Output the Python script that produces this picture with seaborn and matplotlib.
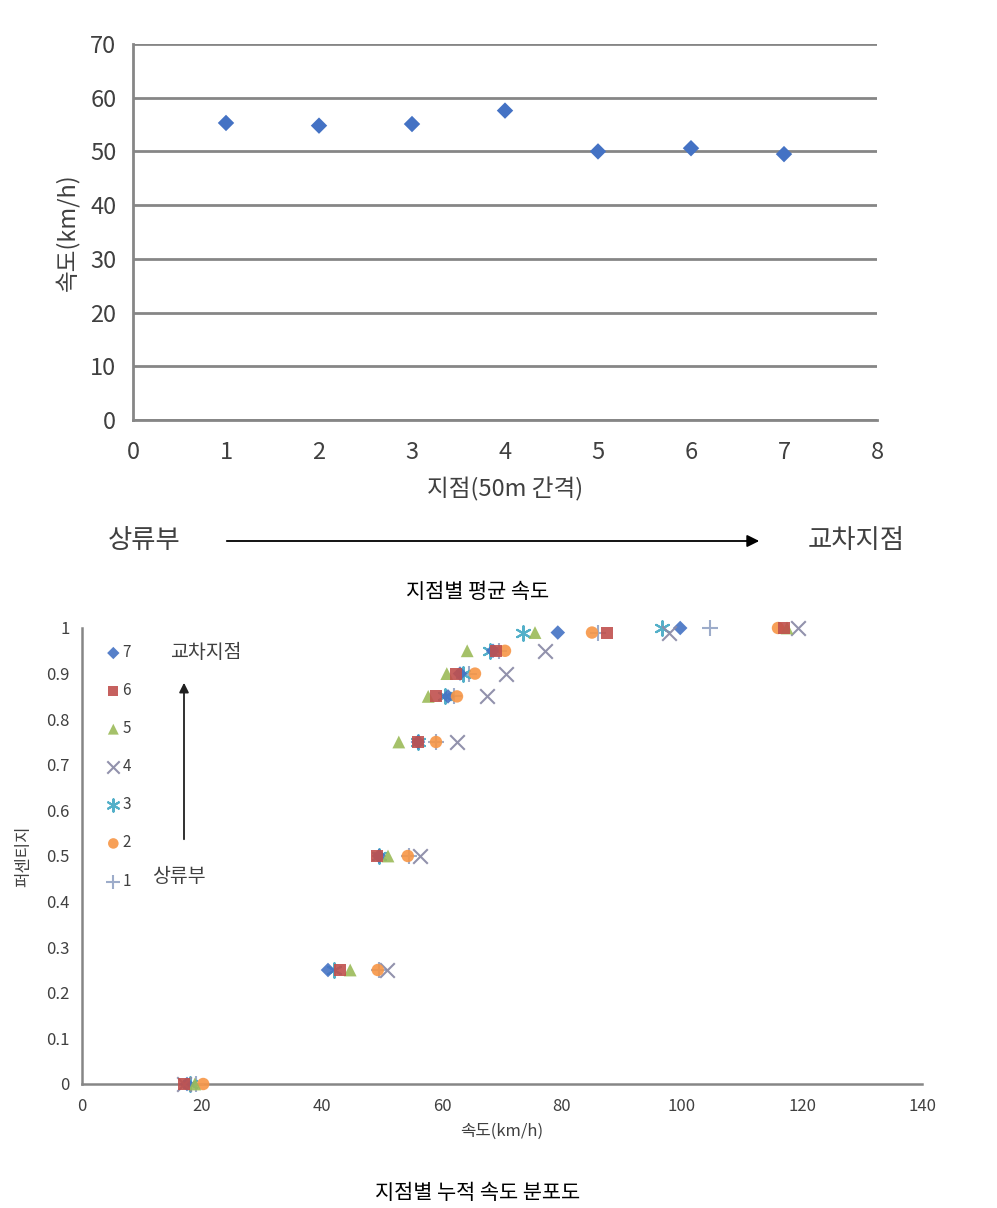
import matplotlib
matplotlib.use("Agg")
import matplotlib.pyplot as plt
import seaborn as sns
import pandas as pd

# ---------------- data ----------------
points = [1, 2, 3, 4, 5, 6, 7]
mean_speed = [55.3, 54.8, 55.1, 57.6, 50.0, 50.6, 49.5]

percentiles = [0, 0.25, 0.5, 0.75, 0.85, 0.9, 0.95, 0.99, 1.0]
speed_p7 = [17.5, 41.0, 49.5, 56.0, 61.0, 63.0, 68.5, 79.3, 99.7]
speed_p6 = [17.0, 43.0, 49.2, 56.0, 59.0, 62.3, 69.0, 87.5, 117.0]
speed_p5 = [18.8, 44.7, 51.0, 52.8, 57.7, 60.8, 64.2, 75.5, 117.5]
speed_p4 = [17.0, 50.8, 56.3, 62.5, 67.5, 70.7, 77.2, 97.8, 119.3]
speed_p3 = [18.0, 42.0, 49.5, 56.0, 60.5, 63.5, 68.0, 73.5, 96.7]
speed_p2 = [20.2, 49.3, 54.3, 59.0, 62.5, 65.5, 70.5, 85.0, 116.0]
speed_p1 = [19.0, 49.5, 54.5, 59.0, 62.0, 64.5, 69.5, 86.0, 104.7]

series_labels = ["7", "6", "5", "4", "3", "2", "1"]
series_speeds = [speed_p7, speed_p6, speed_p5, speed_p4, speed_p3, speed_p2, speed_p1]

x_ticks_top = [0, 1, 2, 3, 4, 5, 6, 7, 8]
y_ticks_top = [0, 10, 20, 30, 40, 50, 60, 70]
x_ticks_bot = [0, 20, 40, 60, 80, 100, 120, 140]
y_ticks_bot = [0, 0.1, 0.2, 0.3, 0.4, 0.5, 0.6, 0.7, 0.8, 0.9, 1]
y_tick_labels_bot = ["0", "0.1", "0.2", "0.3", "0.4", "0.5", "0.6", "0.7", "0.8", "0.9", "1"]

# ---------------- styling ----------------
sns.set_style("white")
plt.rcParams['font.family'] = ['Noto Sans CJK KR', 'DejaVu Sans']

styles = {
    "7": dict(marker="D", color="#4472C4", s=55, filled=True),
    "6": dict(marker="s", color="#C0504D", s=75, filled=True),
    "5": dict(marker="^", color="#9BBB59", s=85, filled=True),
    "4": dict(marker="x", color="#8C8CA8", s=110, filled=False),
    "3": dict(marker=(6, 2, 0), color="#4BACC6", s=110, filled=False),
    "2": dict(marker="o", color="#F79646", s=80, filled=True),
    "1": dict(marker="+", color="#98A8C8", s=130, filled=False),
}

axis_gray = "#868686"
text_col = "#404040"

fig = plt.figure(figsize=(9.97, 12.08), dpi=100)

# ---------------- top chart ----------------
ax1 = fig.add_axes([133 / 997, 1 - 420 / 1208, (877 - 133) / 997, (420 - 44) / 1208])
df_top = pd.DataFrame({"지점": points, "속도": mean_speed})
sns.scatterplot(data=df_top, x="지점", y="속도", ax=ax1, marker="D", s=70,
                color="#4472C4", edgecolor="none", zorder=3)
ax1.set_xlim(0, 8)
ax1.set_ylim(0, 70)
ax1.set_xticks(x_ticks_top)
ax1.set_yticks(y_ticks_top)
ax1.yaxis.grid(True, color=axis_gray, linewidth=2)
ax1.xaxis.grid(False)
for sp in ["top", "right"]:
    ax1.spines[sp].set_visible(False)
for sp in ["left", "bottom"]:
    ax1.spines[sp].set_color(axis_gray)
    ax1.spines[sp].set_linewidth(2)
ax1.tick_params(axis="both", direction="out", length=6, width=1.5, color=axis_gray,
                labelsize=17, labelcolor=text_col, pad=6)
ax1.tick_params(axis="x", pad=9)
ax1.set_xlabel("지점(50m 간격)", fontsize=17, color=text_col, labelpad=10)
ax1.set_ylabel("속도(km/h)", fontsize=17, color=text_col, labelpad=8)

fig.text(108 / 997, 1 - 541 / 1208, "상류부", fontsize=19, color=text_col,
         ha="left", va="center")
fig.text(905 / 997, 1 - 541 / 1208, "교차지점", fontsize=19, color=text_col,
         ha="right", va="center")
fig.patches.append(matplotlib.patches.FancyArrowPatch(
    (224 / 997, 1 - 541 / 1208), (762 / 997, 1 - 541 / 1208),
    transform=fig.transFigure, arrowstyle="-|>", mutation_scale=18,
    color="black", linewidth=1.3))
fig.text(478 / 997, 1 - 592 / 1208, "지점별 평균 속도", fontsize=15, color="black",
         ha="center", va="center")

# ---------------- bottom chart ----------------
ax2 = fig.add_axes([82 / 997, 1 - 1084 / 1208, (922 - 82) / 997, (1084 - 628) / 1208])
rows = []
for lab, sp in zip(series_labels, series_speeds):
    for p, v in zip(percentiles, sp):
        rows.append({"지점": lab, "퍼센티지": p, "속도": v})
df_bot = pd.DataFrame(rows)

draw_order = ["1", "3", "7", "4", "2", "5", "6"]
for lab in draw_order:
    st = styles[lab]
    sub = df_bot[df_bot["지점"] == lab]
    if st["filled"]:
        sns.scatterplot(data=sub, x="속도", y="퍼센티지", ax=ax2, marker=st["marker"],
                        s=st["s"], color=st["color"], edgecolor="none", alpha=0.9,
                        label=lab, zorder=3, clip_on=False)
    else:
        sns.scatterplot(data=sub, x="속도", y="퍼센티지", ax=ax2, marker=st["marker"],
                        s=st["s"], color=st["color"], linewidth=1.5, alpha=0.95,
                        label=lab, zorder=3, clip_on=False)

ax2.set_xlim(0, 140)
ax2.set_ylim(0, 1)
ax2.set_xticks(x_ticks_bot)
ax2.set_yticks(y_ticks_bot)
ax2.set_yticklabels(y_tick_labels_bot)
ax2.grid(False)
for sp in ["top", "right"]:
    ax2.spines[sp].set_visible(False)
for sp in ["left", "bottom"]:
    ax2.spines[sp].set_color(axis_gray)
    ax2.spines[sp].set_linewidth(1.8)
ax2.tick_params(axis="y", direction="out", length=5, width=1.2, color=axis_gray,
                labelsize=12, labelcolor=text_col, pad=4)
ax2.tick_params(axis="x", direction="inout", length=8, width=1.2, color=axis_gray,
                labelsize=12, labelcolor=text_col, pad=6)
ax2.set_xlabel("속도(km/h)", fontsize=12, color=text_col, labelpad=6)
ax2.set_ylabel("퍼센티지", fontsize=12, color=text_col, labelpad=10)

handles, labels = ax2.get_legend_handles_labels()
order = [labels.index(l) for l in series_labels]
leg = ax2.legend([handles[i] for i in order], [labels[i] for i in order],
                 loc="upper left", bbox_to_anchor=(0.01, 0.995), frameon=False,
                 fontsize=11, labelspacing=1.38, handletextpad=0.0,
                 handlelength=1.2, markerscale=0.85)
for t in leg.get_texts():
    t.set_color(text_col)

fig.text(170 / 997, 1 - 652 / 1208, "교차지점", fontsize=14, color=text_col,
         ha="left", va="center")
fig.text(152 / 997, 1 - 877 / 1208, "상류부", fontsize=14, color=text_col,
         ha="left", va="center")
fig.patches.append(matplotlib.patches.FancyArrowPatch(
    (184 / 997, 1 - 842 / 1208), (184 / 997, 1 - 680 / 1208),
    transform=fig.transFigure, arrowstyle="-|>", mutation_scale=14,
    color="#202020", linewidth=1.3))
fig.text(478 / 997, 1 - 1193 / 1208, "지점별 누적 속도 분포도", fontsize=15, color="black",
         ha="center", va="center")

fig.savefig("out.png", dpi=100, facecolor="white")
